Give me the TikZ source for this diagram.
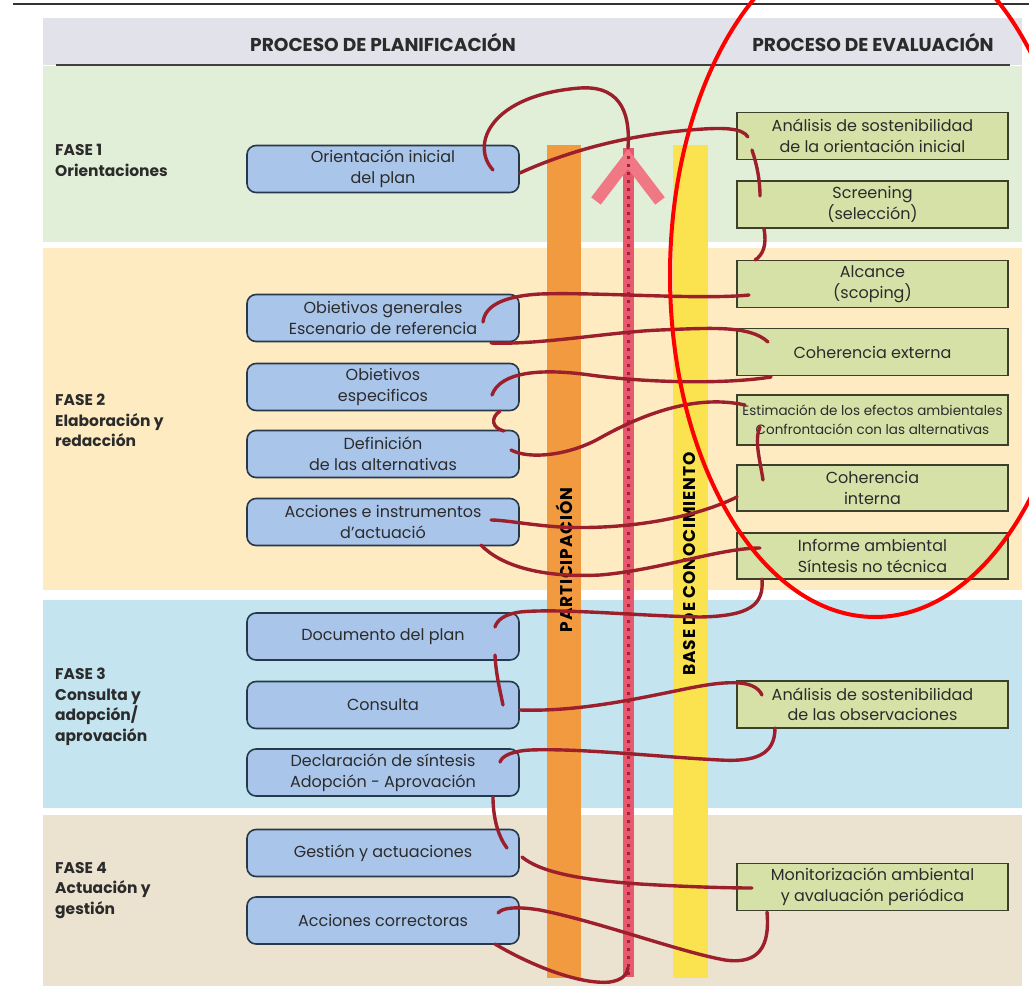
\documentclass[tikz,border=0pt]{standalone}
\usepackage{fontspec}
\setmainfont{Poppins}
\usetikzlibrary{calc}
\definecolor{headbg}{HTML}{E2E2EA}
\definecolor{phA}{HTML}{E2EFD8}
\definecolor{phB}{HTML}{FEEBC1}
\definecolor{phC}{HTML}{C4E4EF}
\definecolor{phD}{HTML}{ECE2D0}
\definecolor{bluefill}{HTML}{A9C5EA}
\definecolor{blueline}{HTML}{27384A}
\definecolor{greenfill}{HTML}{D6E1A8}
\definecolor{greenline}{HTML}{3E3F2A}
\definecolor{orangebar}{HTML}{F29A3F}
\definecolor{yellowbar}{HTML}{FAE34F}
\definecolor{pinkshaft}{HTML}{E8586E}
\definecolor{pinkhead}{HTML}{F07784}
\definecolor{dotc}{HTML}{A3203A}
\definecolor{threadc}{HTML}{9C1F2C}
\definecolor{txt}{HTML}{2B2B2B}
\begin{document}
\begin{tikzpicture}[x=1pt,y=-1pt,
  bluebox/.style={draw=blueline, line width=1.6pt, fill=bluefill, rounded corners=9pt,
    minimum width=272pt, minimum height=47pt, inner sep=0pt, align=center, text=txt,
    font=\fontsize{16}{21}\selectfont},
  greenbox/.style={draw=greenline, line width=1.8pt, fill=greenfill,
    minimum width=271pt, minimum height=47pt, inner sep=0pt, align=center, text=txt,
    font=\fontsize{16}{20.5}\selectfont},
  phase/.style={anchor=north west, inner sep=0pt, align=left, text=txt,
    font=\bfseries\fontsize{15.5}{20.5}\selectfont},
  headtxt/.style={inner sep=0pt, text=txt, font=\bfseries\fontsize{18.6}{20}\selectfont},
  bartxt/.style={inner sep=0pt, rotate=90, text=black,
    font=\bfseries\fontsize{17}{18}\selectfont\addfontfeature{LetterSpace=5}},
  thread/.style={draw=threadc, line width=3.4pt, line cap=round}]
\useasboundingbox (0,0) rectangle (1029,986);
\fill[white] (0,0) rectangle (1029,986);
% top rule
\draw[black!80, line width=2pt] (13,4) -- (1029,4);
% bands
\fill[headbg] (43,18) rectangle (1022,65);
\fill[phA] (43,66) rectangle (1022,242);
\fill[phB] (43,248) rectangle (1022,590);
\fill[phC] (43,600) rectangle (1022,808);
\fill[phD] (43,815) rectangle (1022,986);
\draw[black!75, line width=1.3pt] (56,65) -- (1010,65);
% headers
\node[headtxt] (hp) at (383,42) {PROCESO DE PLANIFICACIÓN};
\node[headtxt] (he) at (873,42) {PROCESO DE EVALUACIÓN};
% phase labels
\node[phase] (f1) at (55,144) {FASE 1\\Orientaciones};
\node[phase] (f2) at (55,394) {FASE 2\\Elaboración y\\redacción};
\node[phase] (f3) at (55,668) {FASE 3\\Consulta y\\adopción/\\aprovación};
\node[phase] (f4) at (55,862) {FASE 4\\Actuación y\\gestión};
% bars
\fill[orangebar] (547,145) rectangle (581,978);
\fill[yellowbar] (673,145) rectangle (708,978);
\node[bartxt] (lp) at (564,560) {PARTICIPACIÓN};
\node[bartxt] (lb) at (690,564) {BASE DE CONOCIMIENTO};
% arrow
\coordinate (apex) at (628,148);
\coordinate (abot) at (628,968);
\draw[pinkshaft, line width=11pt] (628,977) -- (apex);
\draw[pinkhead, line width=12pt, line join=miter] (596,201) -- (628,159) -- (660,201);
\draw[dotc, line width=3pt, dash pattern=on 3pt off 5pt] (628,975) -- (628,152);
% planning boxes
\node[bluebox] (o1) at (383,169) {Orientación inicial\\del plan};
\node[bluebox] (b2) at (383,318) {Obietivos generales\\Escenario de referencia};
\node[bluebox] (b3) at (383,387) {Obietivos\\especificos};
\node[bluebox] (b4) at (383,454) {Definición\\de las alternativas};
\node[bluebox] (b5) at (383,522) {Acciones e instrumentos\\d'actuació};
\node[bluebox] (b6) at (383,636.5) {Documento del plan};
\node[bluebox] (b7) at (383,705) {Consulta};
\node[bluebox] (b8) at (383,772.5) {Declaración de síntesis\\Adopción - Aprovación};
\node[bluebox] (b9) at (383,853) {Gestión y actuaciones};
\node[bluebox] (b10) at (383,920.5) {Acciones correctoras};
% evaluation boxes
\node[greenbox] (g1) at (872.5,136) {Análisis de sostenibilidad\\de la orientación inicial};
\node[greenbox] (g2) at (872.5,204.5) {Screening\\(selección)};
\node[greenbox] (g3) at (872.5,284) {Alcance\\(scoping)};
\node[greenbox] (g4) at (872.5,352) {Coherencia externa};
\node[greenbox, minimum height=50pt, font=\fontsize{13.5}{19}\selectfont] (g5) at (872.5,420) {Estimación de los efectos ambientales\\Confrontación con las alternativas};
\node[greenbox, minimum height=46pt] (g6) at (872.5,488) {Coherencia\\interna};
\node[greenbox, minimum height=46pt] (g7) at (872.5,556) {Informe ambiental\\Síntesis no técnica};
\node[greenbox] (g8) at (872.5,704.5) {Análisis de sostenibilidad\\de las observaciones};
\node[greenbox] (g9) at (872.5,887) {Monitorización ambiental\\y avaluación periódica};
% thread
\draw[thread] ($(o1)+(110,1)$) .. controls (470,145) and (490,95) .. (580,88) .. controls (625,85) and (630,120) .. (apex);
\draw[thread] ($(o1.east)+(0,4)$) .. controls (570,150) and (630,135) .. (690,130) .. controls (725,127) and (742,128) .. ($(g1)+(-124.5,1)$);
\draw[thread] ($(g1)+(-120.5,14)$) .. controls (757,165) and (760,180) .. ($(g2)+(-112.5,-8.5)$);
\draw[thread] ($(g2)+(-108.5,24.5)$) .. controls (767,245) and (763,255) .. ($(g3)+(-117.5,-24)$);
\draw[thread] ($(g3)+(-123.5,11)$) .. controls (700,300) and (600,292) .. (540,294) .. controls (505,296) and (485,305) .. ($(b2)+(100,4)$);
\draw[thread] ($(b2)+(108,25)$) .. controls (540,345) and (610,332) .. (660,330) .. controls (710,328) and (750,325) .. ($(g4)+(-104.5,-10)$);
\draw[thread] ($(g4)+(-101.5,25)$) .. controls (720,385) and (640,382) .. (590,375) .. controls (540,368) and (500,372) .. ($(b3)+(109,8)$);
\draw[thread] ($(b3)+(117,24)$) .. controls (490,418) and (492,428) .. ($(b4)+(121,-23)$);
\draw[thread] ($(b4)+(128,-4)$) .. controls (530,460) and (570,455) .. (600,438) .. controls (650,410) and (700,395) .. ($(g5)+(-127.5,-15)$);
\draw[thread] ($(g5)+(-112.5,7)$) .. controls (754,440) and (760,460) .. ($(g6)+(-109.5,-8)$);
\draw[thread] ($(g6)+(-135.5,9)$) .. controls (690,520) and (620,530) .. (560,527) .. controls (530,525) and (505,520) .. ($(b5)+(108,-2)$);
\draw[thread] ($(b5)+(98,23)$) .. controls (500,565) and (540,578) .. (600,575) .. controls (660,570) and (720,548) .. ($(g7)+(-112.5,-8)$);
\draw[thread] ($(g7)+(-110.5,23)$) .. controls (764,605) and (750,616) .. (700,617) .. controls (640,616) and (560,608) .. (520,612) .. controls (505,614) and (497,620) .. ($(b6)+(112,-9.5)$);
\draw[thread] ($(b6)+(112,18.5)$) .. controls (496,675) and (500,690) .. ($(b7)+(120,0)$);
\draw[thread] ($(b7)+(137,5)$) .. controls (580,712) and (640,698) .. (690,688) .. controls (730,680) and (755,680) .. ($(g8)+(-110.5,-9.5)$);
\draw[thread] ($(g8)+(-97.5,23.5)$) .. controls (775,755) and (755,762) .. (720,760) .. controls (660,757) and (580,748) .. (530,750) .. controls (512,751) and (502,756) .. ($(b8)+(117,-10.5)$);
\draw[thread] ($(b8)+(110,24.5)$) .. controls (493,815) and (497,835) .. ($(b9)+(124,-5)$);
\draw[thread] ($(b9)+(139,4)$) .. controls (540,872) and (580,880) .. (640,884) .. controls (690,887) and (730,888) .. ($(g9)+(-120.5,1)$);
\draw[thread] ($(g9)+(-105.5,25)$) .. controls (770,945) and (760,965) .. (725,960) .. controls (680,952) and (600,922) .. (540,910) .. controls (515,906) and (502,908) .. ($(b10)+(115,-7.5)$);
\draw[thread] ($(b10)+(112,23.5)$) .. controls (530,965) and (580,985) .. (610,982) .. controls (622,980) and (627,975) .. (abot);
% annotation ellipse
\begin{scope}
\clip (0,0) rectangle (1029,986);
\draw[red, line width=4pt] (875,275) ellipse [x radius=205, y radius=342];
\end{scope}
\end{tikzpicture}
\end{document}
